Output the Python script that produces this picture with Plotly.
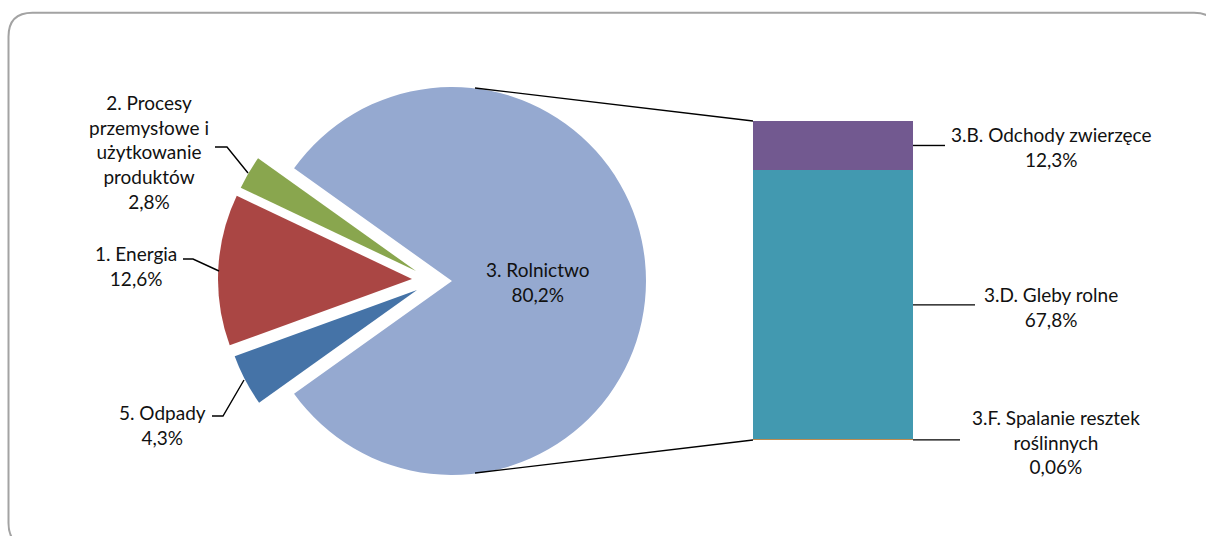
import plotly.graph_objects as go

# Sector shares of national emissions (%)
sector_names = ["3. Rolnictwo", "5. Odpady", "1. Energia",
                "2. Procesy przemysłowe i użytkowanie produktów"]
sector_label_lines = ["3. Rolnictwo", "5. Odpady", "1. Energia",
                      "2. Procesy<br>przemysłowe i<br>użytkowanie<br>produktów"]
sector_share = [80.2, 4.3, 12.6, 2.8]
sector_colors = ["#95A9D0", "#4573A7", "#AA4644", "#89A64E"]

# Breakdown of agriculture (3.), shares of national emissions (%)
agri_names = ["3.F. Spalanie resztek<br>roślinnych", "3.D. Gleby rolne", "3.B. Odchody zwierzęce"]
agri_share = [0.06, 67.8, 12.3]
agri_colors = ["#E8872F", "#4299B0", "#725990"]

W, H = 1206, 536
FONT = dict(family="Lato, 'Open Sans', sans-serif", size=19, color="#111111")


def pct(v):
    return f"{v:g}".replace(".", ",") + "%"


def px_x(x):
    return x / W


def px_y(y):
    return 1 - y / H


# pie geometry (pixels): radius and the apex of every slice
# (the three small sectors are exploded to the left)
R = 194
slice_apex = [(452, 281), (417, 290), (412, 279), (416, 271)]
total = sum(sector_share)
rotation = 90 - sector_share[0] / total * 360 / 2

# bar geometry (pixels)
bar_left, bar_right = 753, 913
bar_top, bar_bottom = 121, 440
agri_total = sum(agri_share)


def bar_py(v):
    return bar_bottom - (bar_bottom - bar_top) * v / agri_total


fig = go.Figure()

# one pie per sector so each wedge can be offset on its own
for i, (ax, ay) in enumerate(slice_apex):
    colors = [c if j == i else "rgba(0,0,0,0)" for j, c in enumerate(sector_colors)]
    fig.add_trace(go.Pie(
        labels=sector_names,
        values=sector_share,
        sort=False,
        direction="clockwise",
        rotation=rotation,
        marker=dict(colors=colors, line=dict(width=0)),
        textinfo="none",
        hoverinfo="label+percent" if i == 0 else "skip",
        showlegend=False,
        domain=dict(x=[px_x(ax - R), px_x(ax + R)],
                    y=[px_y(ay + R), px_y(ay - R)]),
    ))

for name, val, col in zip(agri_names, agri_share, agri_colors):
    fig.add_trace(go.Bar(
        x=["3"], y=[val], width=1,
        marker=dict(color=col, line=dict(width=0)),
        name=name.replace("<br>", " "),
        showlegend=False,
        hoverinfo="name+y",
    ))

fig.update_layout(
    width=W, height=H,
    margin=dict(l=0, r=0, t=0, b=0),
    paper_bgcolor="white", plot_bgcolor="rgba(0,0,0,0)",
    barmode="stack", bargap=0,
    font=FONT,
    xaxis=dict(domain=[px_x(bar_left), px_x(bar_right)], range=[-0.5, 0.5],
               visible=False, type="category", fixedrange=True),
    yaxis=dict(domain=[px_y(bar_bottom), px_y(bar_top)], range=[0, agri_total],
               visible=False, fixedrange=True),
)

shapes = []

# the 3.F segment is thinner than a pixel: outline it so it stays visible
shapes.append(dict(type="line", xref="x", yref="y",
                   x0=-0.5, x1=0.5, y0=agri_share[0] / 2, y1=agri_share[0] / 2,
                   line=dict(color=agri_colors[0], width=1.5)))


def seg(x0, y0, x1, y1, w=1.4, color="black"):
    shapes.append(dict(type="line", xref="paper", yref="paper",
                       x0=px_x(x0), y0=px_y(y0), x1=px_x(x1), y1=px_y(y1),
                       line=dict(color=color, width=w)))


def poly(points, w=1.4):
    d = "M " + " L ".join(f"{px_x(x)},{px_y(y)}" for x, y in points)
    shapes.append(dict(type="path", xref="paper", yref="paper", path=d,
                       line=dict(color="black", width=w)))


# connectors between the agriculture slice and the bar
seg(475, 88, bar_left, bar_py(agri_total))
seg(475, 473, bar_left, bar_py(0))

# leader lines for the pie labels
poly([(215, 147), (227, 147), (248, 173)])   # 2. Procesy
poly([(183, 259), (193, 259), (219, 271)])   # 1. Energia
poly([(212, 416), (223, 416), (244, 380)])   # 5. Odpady

# leader lines for the bar labels
cum = 0
bar_label_mid = []
for v in agri_share:
    bar_label_mid.append(bar_py(cum + v / 2))
    cum += v
leader_end = [960, 975, 945]
for yy, xe in zip(bar_label_mid, leader_end):
    seg(bar_right, yy, xe, yy)

# rounded frame
fx0, fy0, fx1, fy1, rr = 8.5, 12.7, 1218, 547, 24
frame = (f"M {px_x(fx0 + rr)},{px_y(fy0)} L {px_x(fx1 - rr)},{px_y(fy0)} "
         f"Q {px_x(fx1)},{px_y(fy0)} {px_x(fx1)},{px_y(fy0 + rr)} "
         f"L {px_x(fx1)},{px_y(fy1 - rr)} "
         f"Q {px_x(fx1)},{px_y(fy1)} {px_x(fx1 - rr)},{px_y(fy1)} "
         f"L {px_x(fx0 + rr)},{px_y(fy1)} "
         f"Q {px_x(fx0)},{px_y(fy1)} {px_x(fx0)},{px_y(fy1 - rr)} "
         f"L {px_x(fx0)},{px_y(fy0 + rr)} "
         f"Q {px_x(fx0)},{px_y(fy0)} {px_x(fx0 + rr)},{px_y(fy0)} Z")
shapes.append(dict(type="path", xref="paper", yref="paper", path=frame,
                   line=dict(color="#A3A3A3", width=2), layer="below"))

fig.update_layout(shapes=shapes)

annotations = []


def label(x, y, text):
    annotations.append(dict(x=px_x(x), y=px_y(y), xref="paper", yref="paper",
                            text=text, showarrow=False, align="center",
                            xanchor="center", yanchor="middle", font=FONT))


# pie labels
sector_pos = [(538, 282), (162, 425), (136, 266), (149, 152)]
for (x, y), txt, v in zip(sector_pos, sector_label_lines, sector_share):
    label(x, y, f"{txt}<br>{pct(v)}")

# bar labels
bar_label_x = [1056, 1051, 1051]
for x, yy, txt, v in zip(bar_label_x, bar_label_mid, agri_names, agri_share):
    label(x, yy + 2, f"{txt}<br>{pct(v)}")

fig.update_layout(annotations=annotations)

fig.write_html("out.html")
